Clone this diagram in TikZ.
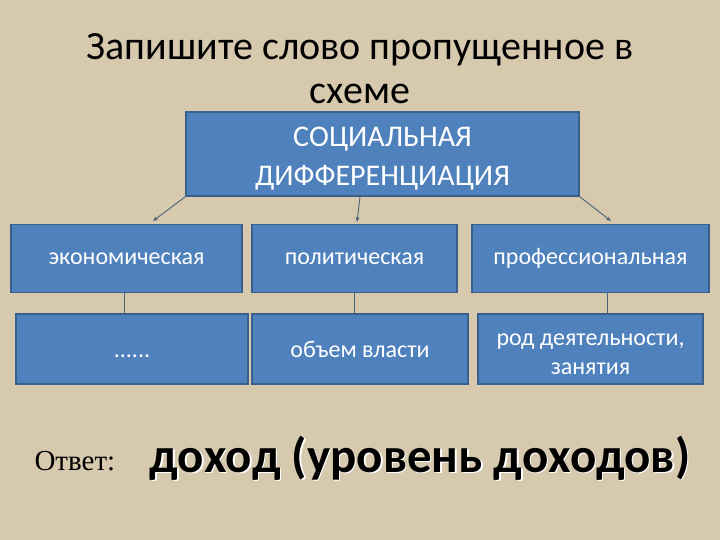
\documentclass[tikz,border=0pt]{standalone}
\usepackage{fontspec}
\setmainfont{Carlito}
\newfontfamily\timesfont{Liberation Serif}
\usetikzlibrary{positioning,arrows.meta}
\definecolor{bgbeige}{HTML}{D6C9AE}
\definecolor{boxblue}{HTML}{4F81BD}
\definecolor{boxedge}{HTML}{3A5F8B}
\definecolor{linkgray}{HTML}{4A6378}

\begin{document}
\begin{tikzpicture}[x=1pt,y=-1pt,
    box/.style={draw=boxedge,line width=1.5pt,fill=boxblue,text=white,
        inner sep=2pt,align=center,font=\fontsize{24}{29}\selectfont},
    link/.style={draw=linkgray,line width=0.9pt},
    arr/.style={link,-{Stealth[length=5pt,width=4pt]}}]

    \fill[bgbeige] (0,0) rectangle (720,540);
    \useasboundingbox (0,0) rectangle (720,540);

    % the title
    \node[font=\fontsize{40}{44}\selectfont,anchor=base] (title) at (360,60) {Запишите слово пропущенное в};
    \node[font=\fontsize{40}{44}\selectfont,anchor=base] (titleB) at (360,104) {схеме};

    % the boxes
    \node[box,minimum width=393pt,minimum height=84pt,font=\fontsize{30}{39}\selectfont] (soc) at (382.5,154) {\rule{0pt}{29pt}СОЦИАЛЬНАЯ\\ДИФФЕРЕНЦИАЦИЯ};
    \node[box,minimum width=231pt,minimum height=68pt] (econ) at (126.5,258.5) {экономическая};
    \node[box,minimum width=205pt,minimum height=68pt] (polit) at (354.5,258.5) {политическая};
    \node[box,minimum width=237pt,minimum height=68pt] (prof) at (590.5,258.5) {профессиональная};
    \node[box,minimum width=232pt,minimum height=70pt,text height=18pt,text depth=2pt] (econB) at (132,349) {......};
    \node[box,minimum width=216pt,minimum height=70pt] (politB) at (360,349) {объем власти};
    \node[box,minimum width=225pt,minimum height=70pt] (profB) at (590.5,349) {\rule{0pt}{22pt}род деятельности,\\занятия};

    % the arrows
    \coordinate (econTip) at (153,221);
    \coordinate (politTip) at (357,222);
    \coordinate (profTip) at (611,221);
    \draw[arr] (soc.south west) -- (econTip);
    \draw[arr] ([xshift=-22.5pt]soc.south) -- (politTip);
    \draw[arr] (soc.south east) -- (profTip);

    \draw[link] ([xshift=-2pt]econ.south) -- ([xshift=-2pt]econ.south |- econB.north);
    \draw[link] (polit.south) -- (polit.south |- politB.north);
    \draw[link] ([xshift=16.5pt]prof.south) -- ([xshift=16.5pt]prof.south |- profB.north);

    % the answer
    \node[font=\timesfont\fontsize{29}{34}\selectfont,anchor=base west] (otvet) at (31,470) {Ответ:};
    \node[font=\bfseries\fontsize{49}{57}\selectfont,text=white,anchor=base] (answerShade) at (421.5,473.5) {доход (уровень доходов)};
    \node[font=\bfseries\fontsize{49}{57}\selectfont,anchor=base] (answer) at (420,472) {доход (уровень доходов)};

\end{tikzpicture}
\end{document}
